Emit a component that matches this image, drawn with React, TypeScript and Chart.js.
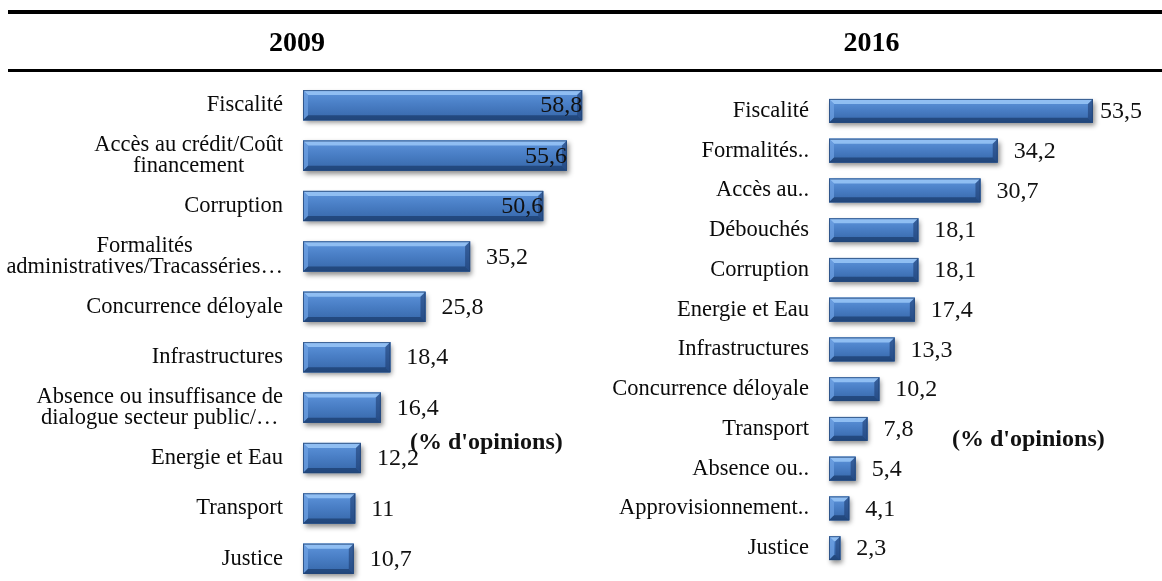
import React, { useEffect, useRef } from 'react';
import { Chart, registerables } from 'chart.js';

Chart.register(...registerables);

const SERIF = "'Liberation Serif', 'Times New Roman', serif";

// ---------- DATA ----------
const title2009 = '2009';
const categories2009: (string | string[])[] = [
  'Fiscalité',
  ['Accès au crédit/Coût', 'financement'],
  'Corruption',
  ['Formalités', 'administratives/Tracasséries…'],
  'Concurrence déloyale',
  'Infrastructures',
  ['Absence ou insuffisance de', 'dialogue secteur public/…'],
  'Energie et Eau',
  'Transport',
  'Justice',
];
const values2009 = [58.8, 55.6, 50.6, 35.2, 25.8, 18.4, 16.4, 12.2, 11, 10.7];

const title2016 = '2016';
const categories2016: (string | string[])[] = [
  'Fiscalité',
  'Formalités..',
  'Accès au..',
  'Débouchés',
  'Corruption',
  'Energie et Eau',
  'Infrastructures',
  'Concurrence déloyale',
  'Transport',
  'Absence ou..',
  'Approvisionnement..',
  'Justice',
];
const values2016 = [53.5, 34.2, 30.7, 18.1, 18.1, 17.4, 13.3, 10.2, 7.8, 5.4, 4.1, 2.3];

const unitNote = "(% d'opinions)";

// ---------- HELPERS ----------
const fmt = (v: number) => String(v).replace('.', ',');

function barRect(el: any) {
  const p = el.getProps(['x', 'y', 'base', 'height'], true);
  const left = Math.min(p.x, p.base);
  const right = Math.max(p.x, p.base);
  const top = p.y - p.height / 2;
  const bottom = p.y + p.height / 2;
  return { left, right, top, bottom, x: p.x, y: p.y };
}

function poly(ctx: CanvasRenderingContext2D, pts: number[][], color: string) {
  ctx.beginPath();
  ctx.moveTo(pts[0][0], pts[0][1]);
  for (let i = 1; i < pts.length; i++) ctx.lineTo(pts[i][0], pts[i][1]);
  ctx.closePath();
  ctx.fillStyle = color;
  ctx.fill();
}

const bevelPlugin = {
  id: 'bevelBars',
  beforeDatasetsDraw(chart: any) {
    const ctx: CanvasRenderingContext2D = chart.ctx;
    const meta = chart.getDatasetMeta(0);
    ctx.save();
    meta.data.forEach((el: any) => {
      const r = barRect(el);
      ctx.shadowColor = 'rgba(0,0,0,0.45)';
      ctx.shadowBlur = 5;
      ctx.shadowOffsetX = 2;
      ctx.shadowOffsetY = 3;
      ctx.fillStyle = '#3d70b3';
      ctx.fillRect(r.left, r.top, r.right - r.left, r.bottom - r.top);
    });
    ctx.restore();
  },
  afterDatasetsDraw(chart: any) {
    const ctx: CanvasRenderingContext2D = chart.ctx;
    const meta = chart.getDatasetMeta(0);
    ctx.save();
    meta.data.forEach((el: any) => {
      const { left, right, top, bottom } = barRect(el);
      const w = right - left;
      const h = bottom - top;
      const b = Math.min(5, w / 2, h / 2);
      const g = ctx.createLinearGradient(0, top, 0, bottom);
      g.addColorStop(0, '#5e95dc');
      g.addColorStop(0.45, '#4a7fc6');
      g.addColorStop(1, '#3566a8');
      ctx.fillStyle = g;
      ctx.fillRect(left, top, w, h);
      poly(ctx, [[left, top], [right, top], [right - b, top + b], [left + b, top + b]], 'rgba(150,195,245,0.9)');
      poly(ctx, [[left, top], [left + b, top + b], [left + b, bottom - b], [left, bottom]], 'rgba(110,160,225,0.75)');
      poly(ctx, [[right, top], [right, bottom], [right - b, bottom - b], [right - b, top + b]], 'rgba(25,55,105,0.55)');
      poly(ctx, [[left, bottom], [right, bottom], [right - b, bottom - b], [left + b, bottom - b]], 'rgba(20,50,95,0.6)');
      ctx.strokeStyle = 'rgba(35,70,120,0.8)';
      ctx.lineWidth = 1;
      ctx.strokeRect(left + 0.5, top + 0.5, w - 1, h - 1);
    });
    ctx.restore();
  },
};

// Centre each line of a multi-line category label within its own block (right edge kept)
const centerMultilinePlugin = {
  id: 'centerMultiline',
  beforeDraw(chart: any) {
    const scale = chart.scales.y;
    if (!scale || typeof scale.getLabelItems !== 'function') return;
    const items: any[] = scale.getLabelItems();
    const ctx: CanvasRenderingContext2D = chart.ctx;
    const out: any[] = [];
    for (const it of items) {
      const lbl = it.label;
      const opts = it.options || it;
      if (Array.isArray(lbl) && lbl.length > 1 && opts.textAlign === 'right') {
        ctx.save();
        ctx.font = it.font.string;
        const widths = lbl.map((s: string) => ctx.measureText(s).width);
        ctx.restore();
        const maxW = Math.max(...widths);
        const tx = opts.translation[0] - maxW / 2;
        const ty = opts.translation[1];
        lbl.forEach((s: string, i: number) => {
          const nOpts = { ...opts, textAlign: 'center', translation: [tx, ty] };
          const item = it.options
            ? { ...it, label: s, textOffset: it.textOffset + i * it.font.lineHeight, options: nOpts }
            : { ...nOpts, label: s, textOffset: it.textOffset + i * it.font.lineHeight };
          out.push(item);
        });
      } else {
        out.push(it);
      }
    }
    items.length = 0;
    items.push(...out);
  },
};

function valueLabelPlugin(mode: 'inside' | 'clamp', limit: number) {
  return {
    id: 'valueLabels',
    afterDatasetsDraw(chart: any) {
      const ctx: CanvasRenderingContext2D = chart.ctx;
      const meta = chart.getDatasetMeta(0);
      const data = chart.data.datasets[0].data as number[];
      ctx.save();
      ctx.font = `24px ${SERIF}`;
      ctx.fillStyle = '#111';
      ctx.textBaseline = 'middle';
      ctx.textAlign = 'left';
      meta.data.forEach((el: any, i: number) => {
        const { x, y } = el.getProps(['x', 'y'], true);
        const txt = fmt(data[i]);
        const w = ctx.measureText(txt).width;
        let tx = x + 16;
        if (tx + w > limit) tx = mode === 'inside' ? x - w : limit - w;
        ctx.fillText(txt, tx, y + 1);
      });
      ctx.restore();
    },
  };
}

function decorPlugin(lineStart: number, lineEnd: number, noteX: number, noteY: number) {
  return {
    id: 'decor',
    beforeDraw(chart: any) {
      const ctx: CanvasRenderingContext2D = chart.ctx;
      ctx.save();
      ctx.fillStyle = '#000';
      ctx.fillRect(lineStart, 10, lineEnd - lineStart, 4);
      ctx.fillRect(lineStart, 69, lineEnd - lineStart, 3);
      ctx.restore();
    },
    afterDraw(chart: any) {
      const ctx: CanvasRenderingContext2D = chart.ctx;
      ctx.save();
      ctx.font = `bold 24px ${SERIF}`;
      ctx.fillStyle = '#111';
      ctx.textBaseline = 'middle';
      ctx.textAlign = 'left';
      ctx.fillText(unitNote, noteX, noteY);
      ctx.restore();
    },
  };
}

type PanelCfg = {
  title: string;
  labels: (string | string[])[];
  values: number[];
  width: number;
  height: number;
  xMax: number;
  axisWidth: number;
  titlePadBottom: number;
  padBottom: number;
  lineStart: number;
  lineEnd: number;
  noteX: number;
  noteY: number;
  labelMode: 'inside' | 'clamp';
  labelLimit: number;
};

function Panel({ cfg, left }: { cfg: PanelCfg; left: number }) {
  const ref = useRef<HTMLCanvasElement | null>(null);
  useEffect(() => {
    if (!ref.current) return;
    const chart = new Chart(ref.current, {
      type: 'bar',
      data: {
        labels: cfg.labels as any,
        datasets: [
          {
            data: cfg.values,
            backgroundColor: '#4a7fc6',
            borderWidth: 0,
            categoryPercentage: 1,
            barPercentage: 0.6,
          },
        ],
      },
      options: {
        indexAxis: 'y',
        responsive: false,
        animation: false,
        devicePixelRatio: 1,
        layout: { padding: { left: 0, right: 0, top: 0, bottom: cfg.padBottom } },
        scales: {
          x: { display: false, min: 0, max: cfg.xMax },
          y: {
            grid: { display: false, drawTicks: false },
            border: { display: false },
            ticks: {
              padding: 20,
              color: '#0a0a0a',
              font: { family: SERIF, size: 22.5, lineHeight: 0.92 },
              autoSkip: false,
            },
            afterFit: (scale: any) => {
              scale.width = cfg.axisWidth;
              scale.paddingTop = 0;
              scale.paddingBottom = 0;
            },
          },
        },
        plugins: {
          legend: { display: false },
          tooltip: { enabled: false },
          title: {
            display: true,
            text: cfg.title,
            color: '#000',
            font: { family: SERIF, size: 28, weight: 'bold', lineHeight: 1.2 },
            padding: { top: 27, bottom: cfg.titlePadBottom },
          },
        },
      },
      plugins: [
        decorPlugin(cfg.lineStart, cfg.lineEnd, cfg.noteX, cfg.noteY),
        centerMultilinePlugin,
        bevelPlugin,
        valueLabelPlugin(cfg.labelMode, cfg.labelLimit),
      ],
    });
    return () => chart.destroy();
  }, [cfg]);
  return (
    <canvas
      ref={ref}
      width={cfg.width}
      height={cfg.height}
      style={{ position: 'absolute', left, top: 0, width: cfg.width, height: cfg.height }}
    />
  );
}

const panel2009: PanelCfg = {
  title: title2009,
  labels: categories2009,
  values: values2009,
  width: 594,
  height: 590,
  xMax: 61.3,
  axisWidth: 303,
  titlePadBottom: 19.4,
  padBottom: 6,
  lineStart: 8,
  lineEnd: 594,
  noteX: 410,
  noteY: 443,
  labelMode: 'inside',
  labelLimit: 592,
};

const panel2016: PanelCfg = {
  title: title2016,
  labels: categories2016,
  values: values2016,
  width: 581,
  height: 581,
  xMax: 67.5,
  axisWidth: 248,
  titlePadBottom: 30.4,
  padBottom: 13,
  lineStart: 0,
  lineEnd: 581,
  noteX: 371,
  noteY: 440,
  labelMode: 'clamp',
  labelLimit: 561,
};

export default function App() {
  return (
    <div
      style={{
        position: 'fixed',
        left: 0,
        top: 0,
        width: 1162,
        height: 581,
        overflow: 'hidden',
        background: '#fff',
      }}
    >
      <Panel cfg={panel2009} left={0} />
      <Panel cfg={panel2016} left={581} />
    </div>
  );
}
